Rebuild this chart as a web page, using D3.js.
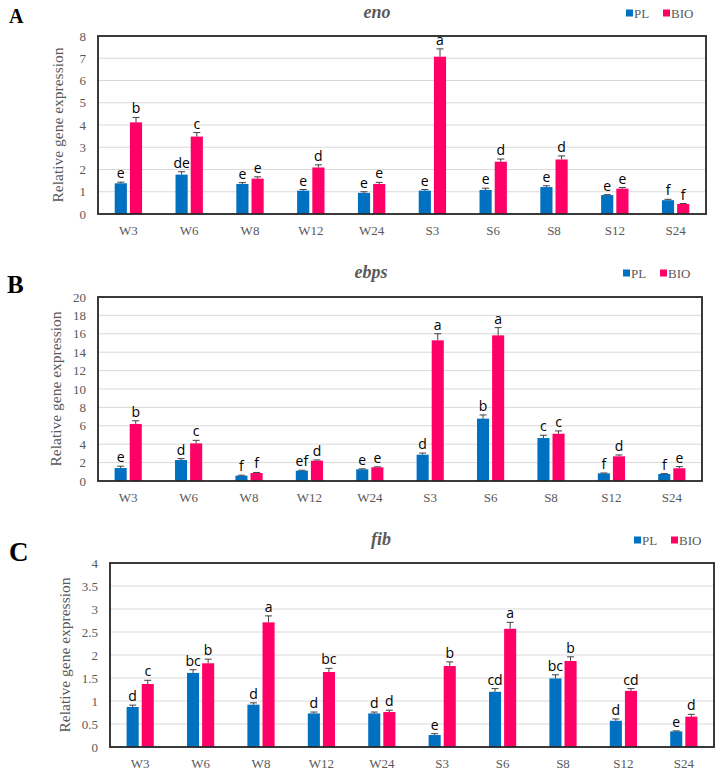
<!DOCTYPE html>
<html><head><meta charset="utf-8">
<script src="https://cdn.jsdelivr.net/npm/d3@7"></script>
<style>body{margin:0;background:#fff}svg{display:block}</style>
</head><body>
<svg id="c" width="720" height="774"></svg>
<script>
const categories = ["W3","W6","W8","W12","W24","S3","S6","S8","S12","S24"];
const seriesNames = ["PL","BIO"];

// Panel A: eno
const enoPL = [1.38,1.77,1.35,1.05,0.95,1.05,1.08,1.21,0.85,0.62];
const enoBIO = [4.12,3.48,1.59,2.09,1.35,7.07,2.35,2.45,1.14,0.45];
const enoPLerr = [0.05,0.13,0.06,0.05,0.05,0.05,0.08,0.06,0.02,0.04];
const enoBIOerr = [0.22,0.18,0.08,0.12,0.07,0.35,0.12,0.16,0.05,0.02];
const enoPLlab = ["e","de","e","e","e","e","e","e","e","f"];
const enoBIOlab = ["b","c","e","d","e","a","d","d","e","f"];
const enoTicks = [0,1,2,3,4,5,6,7,8];

// Panel B: ebps
const ebpsPL = [1.41,2.28,0.58,1.12,1.27,2.86,6.78,4.67,0.83,0.76];
const ebpsBIO = [6.2,4.09,0.87,2.21,1.49,15.29,15.83,5.14,2.68,1.38];
const ebpsPLerr = [0.2,0.15,0.05,0.05,0.05,0.18,0.4,0.3,0.04,0.04];
const ebpsBIOerr = [0.35,0.33,0.06,0.08,0.05,0.72,0.84,0.3,0.15,0.18];
const ebpsPLlab = ["e","d","f","ef","e","d","b","c","f","f"];
const ebpsBIOlab = ["b","c","f","d","e","a","a","c","d","e"];
const ebpsTicks = [0,2,4,6,8,10,12,14,16,18,20];

// Panel C: fib
const fibPL = [0.87,1.61,0.92,0.73,0.73,0.26,1.2,1.49,0.57,0.34];
const fibBIO = [1.37,1.82,2.71,1.63,0.76,1.76,2.57,1.87,1.22,0.66];
const fibPLerr = [0.04,0.07,0.04,0.03,0.03,0.03,0.07,0.08,0.04,0.01];
const fibBIOerr = [0.08,0.09,0.14,0.08,0.04,0.09,0.14,0.09,0.05,0.05];
const fibPLlab = ["d","bc","d","d","d","e","cd","bc","d","e"];
const fibBIOlab = ["c","b","a","bc","d","b","a","b","cd","d"];
const fibTicks = [0,0.5,1,1.5,2,2.5,3,3.5,4];

const colors = ["#0070C0","#FF0066"];
const gray = "#595959";
const serif = "'Liberation Serif','Times New Roman',serif";
const sans = "'Open Sans','Liberation Sans',sans-serif";

const panels = [
  {letter:"A", title:"eno", pl:enoPL, bio:enoBIO, ple:enoPLerr, bioe:enoBIOerr, pll:enoPLlab, biol:enoBIOlab, ticks:enoTicks,
   box:{l:98,r:706,t:36,b:214}, letterX:9, letterY:23, letterSize:20, titleX:377, titleY:18, legX:626, legY:13, ylabX:57, xlabY:235},
  {letter:"B", title:"ebps", pl:ebpsPL, bio:ebpsBIO, ple:ebpsPLerr, bioe:ebpsBIOerr, pll:ebpsPLlab, biol:ebpsBIOlab, ticks:ebpsTicks,
   box:{l:98,r:702,t:297,b:481}, letterX:7, letterY:293, letterSize:25, titleX:371, titleY:278, legX:623, legY:273, ylabX:55, xlabY:502},
  {letter:"C", title:"fib", pl:fibPL, bio:fibBIO, ple:fibPLerr, bioe:fibBIOerr, pll:fibPLlab, biol:fibBIOlab, ticks:fibTicks,
   box:{l:110,r:714,t:563,b:747}, letterX:9, letterY:561, letterSize:27, titleX:381, titleY:545, legX:634, legY:540, ylabX:64, xlabY:768}
];

const svg = d3.select("#c");

panels.forEach(p => {
  const g = svg.append("g");
  const B = p.box;
  const x = d3.scaleBand().domain(categories).range([B.l, B.r]).paddingInner(0).paddingOuter(0);
  const y = d3.scaleLinear().domain([0, d3.max(p.ticks)]).range([B.b, B.t]);
  const sub = d3.scaleBand().domain(seriesNames).range([0, x.bandwidth()]).paddingInner(0.2).paddingOuter(1.1);

  // gridlines
  g.append("g").selectAll("line").data(p.ticks.slice(1)).join("line")
    .attr("x1", B.l).attr("x2", B.r).attr("y1", d => y(d)).attr("y2", d => y(d))
    .attr("stroke", "#d9d9d9").attr("stroke-width", 1);

  // y axis ticks
  const yAxis = d3.axisLeft(y).tickValues(p.ticks).tickSize(0).tickPadding(12).tickFormat(d => d);
  const ya = g.append("g").attr("transform", `translate(${B.l},0)`).call(yAxis);
  ya.select(".domain").remove();
  ya.selectAll("text").attr("font-family", serif).attr("font-size", 13).attr("fill", gray);

  // x axis labels
  const xAxis = d3.axisBottom(x).tickSize(0).tickPadding(0);
  const xa = g.append("g").attr("transform", `translate(0,${p.xlabY - 9})`).call(xAxis);
  xa.select(".domain").remove();
  xa.selectAll("text").attr("font-family", serif).attr("font-size", 13).attr("fill", gray);

  const data = categories.map((c, i) => ({c,
    vals: [{s:"PL", v:p.pl[i], e:p.ple[i], l:p.pll[i]}, {s:"BIO", v:p.bio[i], e:p.bioe[i], l:p.biol[i]}]}));

  const grp = g.append("g").selectAll("g").data(data).join("g")
    .attr("transform", d => `translate(${x(d.c)},0)`);

  const items = grp.selectAll("g").data(d => d.vals).join("g");
  items.append("rect")
    .attr("x", d => sub(d.s)).attr("width", sub.bandwidth())
    .attr("y", d => y(d.v)).attr("height", d => y(0) - y(d.v))
    .attr("fill", (d, i) => colors[i]);
  // error bars
  items.append("line")
    .attr("x1", d => sub(d.s) + sub.bandwidth()/2).attr("x2", d => sub(d.s) + sub.bandwidth()/2)
    .attr("y1", d => y(d.v)).attr("y2", d => y(d.v + d.e))
    .attr("stroke", "#404040").attr("stroke-width", 1);
  items.append("line")
    .attr("x1", d => sub(d.s) + sub.bandwidth()/2 - 3.5).attr("x2", d => sub(d.s) + sub.bandwidth()/2 + 3.5)
    .attr("y1", d => y(d.v + d.e)).attr("y2", d => y(d.v + d.e))
    .attr("stroke", "#404040").attr("stroke-width", 1);
  items.append("text")
    .attr("x", d => sub(d.s) + sub.bandwidth()/2)
    .attr("y", d => y(d.v + d.e) - 4)
    .attr("text-anchor", "middle")
    .attr("font-family", sans).attr("font-size", 14).attr("fill", "#000")
    .text(d => d.l);

  // plot border
  g.append("rect").attr("x", B.l).attr("y", B.t).attr("width", B.r - B.l).attr("height", B.b - B.t)
    .attr("fill", "none").attr("stroke", "#262626").attr("stroke-width", 1.8);

  // y label
  g.append("text").attr("transform", `translate(${p.ylabX},${(B.t + B.b)/2}) rotate(-90)`)
    .attr("text-anchor", "middle").attr("dominant-baseline", "central")
    .attr("font-family", serif).attr("font-size", 15.5).attr("fill", gray)
    .text("Relative gene expression");

  // panel letter
  g.append("text").attr("x", p.letterX).attr("y", p.letterY)
    .attr("font-family", serif).attr("font-weight", "bold").attr("font-size", p.letterSize).attr("fill", "#000")
    .text(p.letter);

  // title
  g.append("text").attr("x", p.titleX).attr("y", p.titleY).attr("text-anchor", "middle")
    .attr("font-family", serif).attr("font-weight", "bold").attr("font-style", "italic")
    .attr("font-size", 18).attr("fill", gray).text(p.title);

  // legend
  const leg = g.append("g").attr("transform", `translate(${p.legX},${p.legY})`);
  const offs = [0, 37];
  seriesNames.forEach((s, i) => {
    leg.append("rect").attr("x", offs[i]).attr("y", -3.5).attr("width", 7).attr("height", 7).attr("fill", colors[i]);
    leg.append("text").attr("x", offs[i] + 8).attr("y", 0).attr("dominant-baseline", "central")
      .attr("font-family", serif).attr("font-size", 13).attr("fill", gray).text(s);
  });
});
</script>
</body></html>
